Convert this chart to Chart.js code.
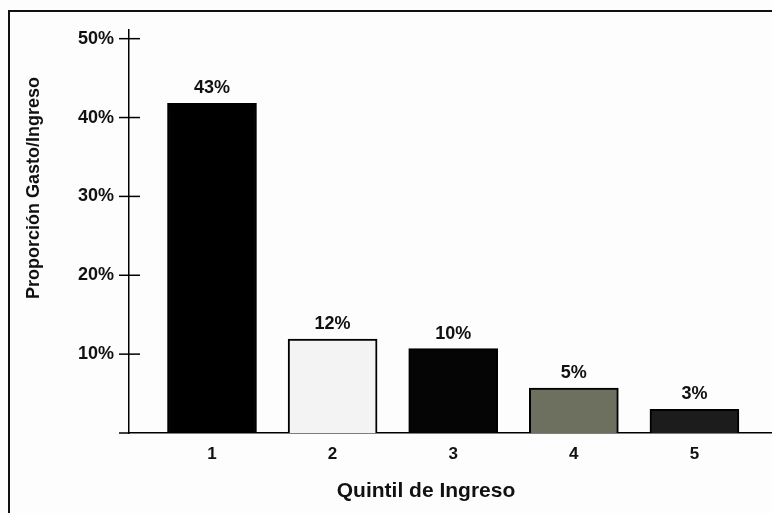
<!DOCTYPE html>
<html>
<head>
<meta charset="utf-8">
<script src="https://cdn.jsdelivr.net/npm/chart.js@4/dist/chart.umd.min.js"></script>
<style>
  html, body { margin: 0; padding: 0; background: #fdfdfd; }
  #wrap { position: relative; width: 772px; height: 513px; }
</style>
</head>
<body>
<div id="wrap"><canvas id="chart" width="772" height="513"></canvas></div>
<script>
// data
const quintiles = [1, 2, 3, 4, 5];
const shares = [41.8, 11.9, 10.7, 5.7, 3.0];
const shareLabels = ['43%', '12%', '10%', '5%', '3%'];
const yTicks = [0, 10, 20, 30, 40, 50];
const barColors = ['#000000', '#f3f3f3', '#050505', '#6d6f5f', '#1c1c1c'];

const xTitle = 'Quintil de Ingreso';
const yTitle = 'Proporción Gasto/Ingreso';
const FONT = '"Liberation Sans", Arial, sans-serif';

// frame, crossing tick marks, value labels and axis titles
const decorations = {
    id: 'decorations',
    beforeDraw(chart) {
        const ctx = chart.ctx;
        ctx.save();
        ctx.fillStyle = '#fdfdfd';
        ctx.fillRect(0, 0, chart.width, chart.height);
        ctx.strokeStyle = '#111';
        ctx.lineWidth = 2;
        ctx.beginPath();
        ctx.moveTo(9, chart.height);
        ctx.lineTo(9, 11);
        ctx.lineTo(chart.width, 11);
        ctx.stroke();
        ctx.restore();
    },
    afterDraw(chart) {
        const ctx = chart.ctx;
        const y = chart.scales.y;
        const area = chart.chartArea;
        ctx.save();
        ctx.strokeStyle = '#000';
        ctx.lineWidth = 1.5;
        yTicks.forEach(v => {
            const py = y.getPixelForValue(v);
            ctx.beginPath();
            ctx.moveTo(area.left - 10, py);
            ctx.lineTo(v === 0 ? area.left : area.left + 11, py);
            ctx.stroke();
        });

        // value labels above bars
        ctx.fillStyle = '#111';
        ctx.font = 'bold 18px ' + FONT;
        ctx.textAlign = 'center';
        ctx.textBaseline = 'bottom';
        chart.getDatasetMeta(0).data.forEach((bar, i) => {
            ctx.fillText(shareLabels[i], bar.x, bar.y - 6);
        });

        // axis titles
        ctx.font = 'bold 21px ' + FONT;
        ctx.textBaseline = 'middle';
        ctx.fillText(xTitle, 426, 491);
        ctx.save();
        ctx.translate(34, 188);
        ctx.rotate(-Math.PI / 2);
        ctx.font = 'bold 18px ' + FONT;
        ctx.fillText(yTitle, 0, 0);
        ctx.restore();
        ctx.restore();
    }
};

new Chart(document.getElementById('chart').getContext('2d'), {
    type: 'bar',
    data: {
        datasets: [{
            data: quintiles.map((q, i) => ({ x: q, y: shares[i] })),
            backgroundColor: barColors,
            borderColor: '#000',
            borderWidth: 2,
            barThickness: 89
        }]
    },
    options: {
        responsive: false,
        animation: false,
        layout: { padding: { top: 30, right: 0, bottom: 0, left: 0 } },
        plugins: {
            legend: { display: false },
            tooltip: { enabled: false }
        },
        scales: {
            x: {
                type: 'linear',
                offset: false,
                min: 0.312,
                max: 5.643,
                grid: { display: false, drawTicks: false },
                border: { display: true, color: '#000', width: 1.5 },
                afterBuildTicks: scale => {
                    scale.ticks = quintiles.map(v => ({ value: v }));
                },
                afterFit: scale => { scale.height = 80; },
                ticks: {
                    padding: 11,
                    color: '#111',
                    font: { family: FONT, size: 17, weight: 'bold' },
                    callback: v => String(v)
                }
            },
            y: {
                min: 0,
                max: 51.1,
                grid: { display: false, drawTicks: false },
                border: { display: true, color: '#000', width: 1.5 },
                afterBuildTicks: scale => {
                    scale.ticks = yTicks.map(v => ({ value: v }));
                },
                afterFit: scale => { scale.width = 129; },
                ticks: {
                    padding: 15,
                    color: '#111',
                    font: { family: FONT, size: 18, weight: 'bold' },
                    callback: v => (v === 0 ? '' : v + '%')
                }
            }
        }
    },
    plugins: [decorations]
});
</script>
</body>
</html>
